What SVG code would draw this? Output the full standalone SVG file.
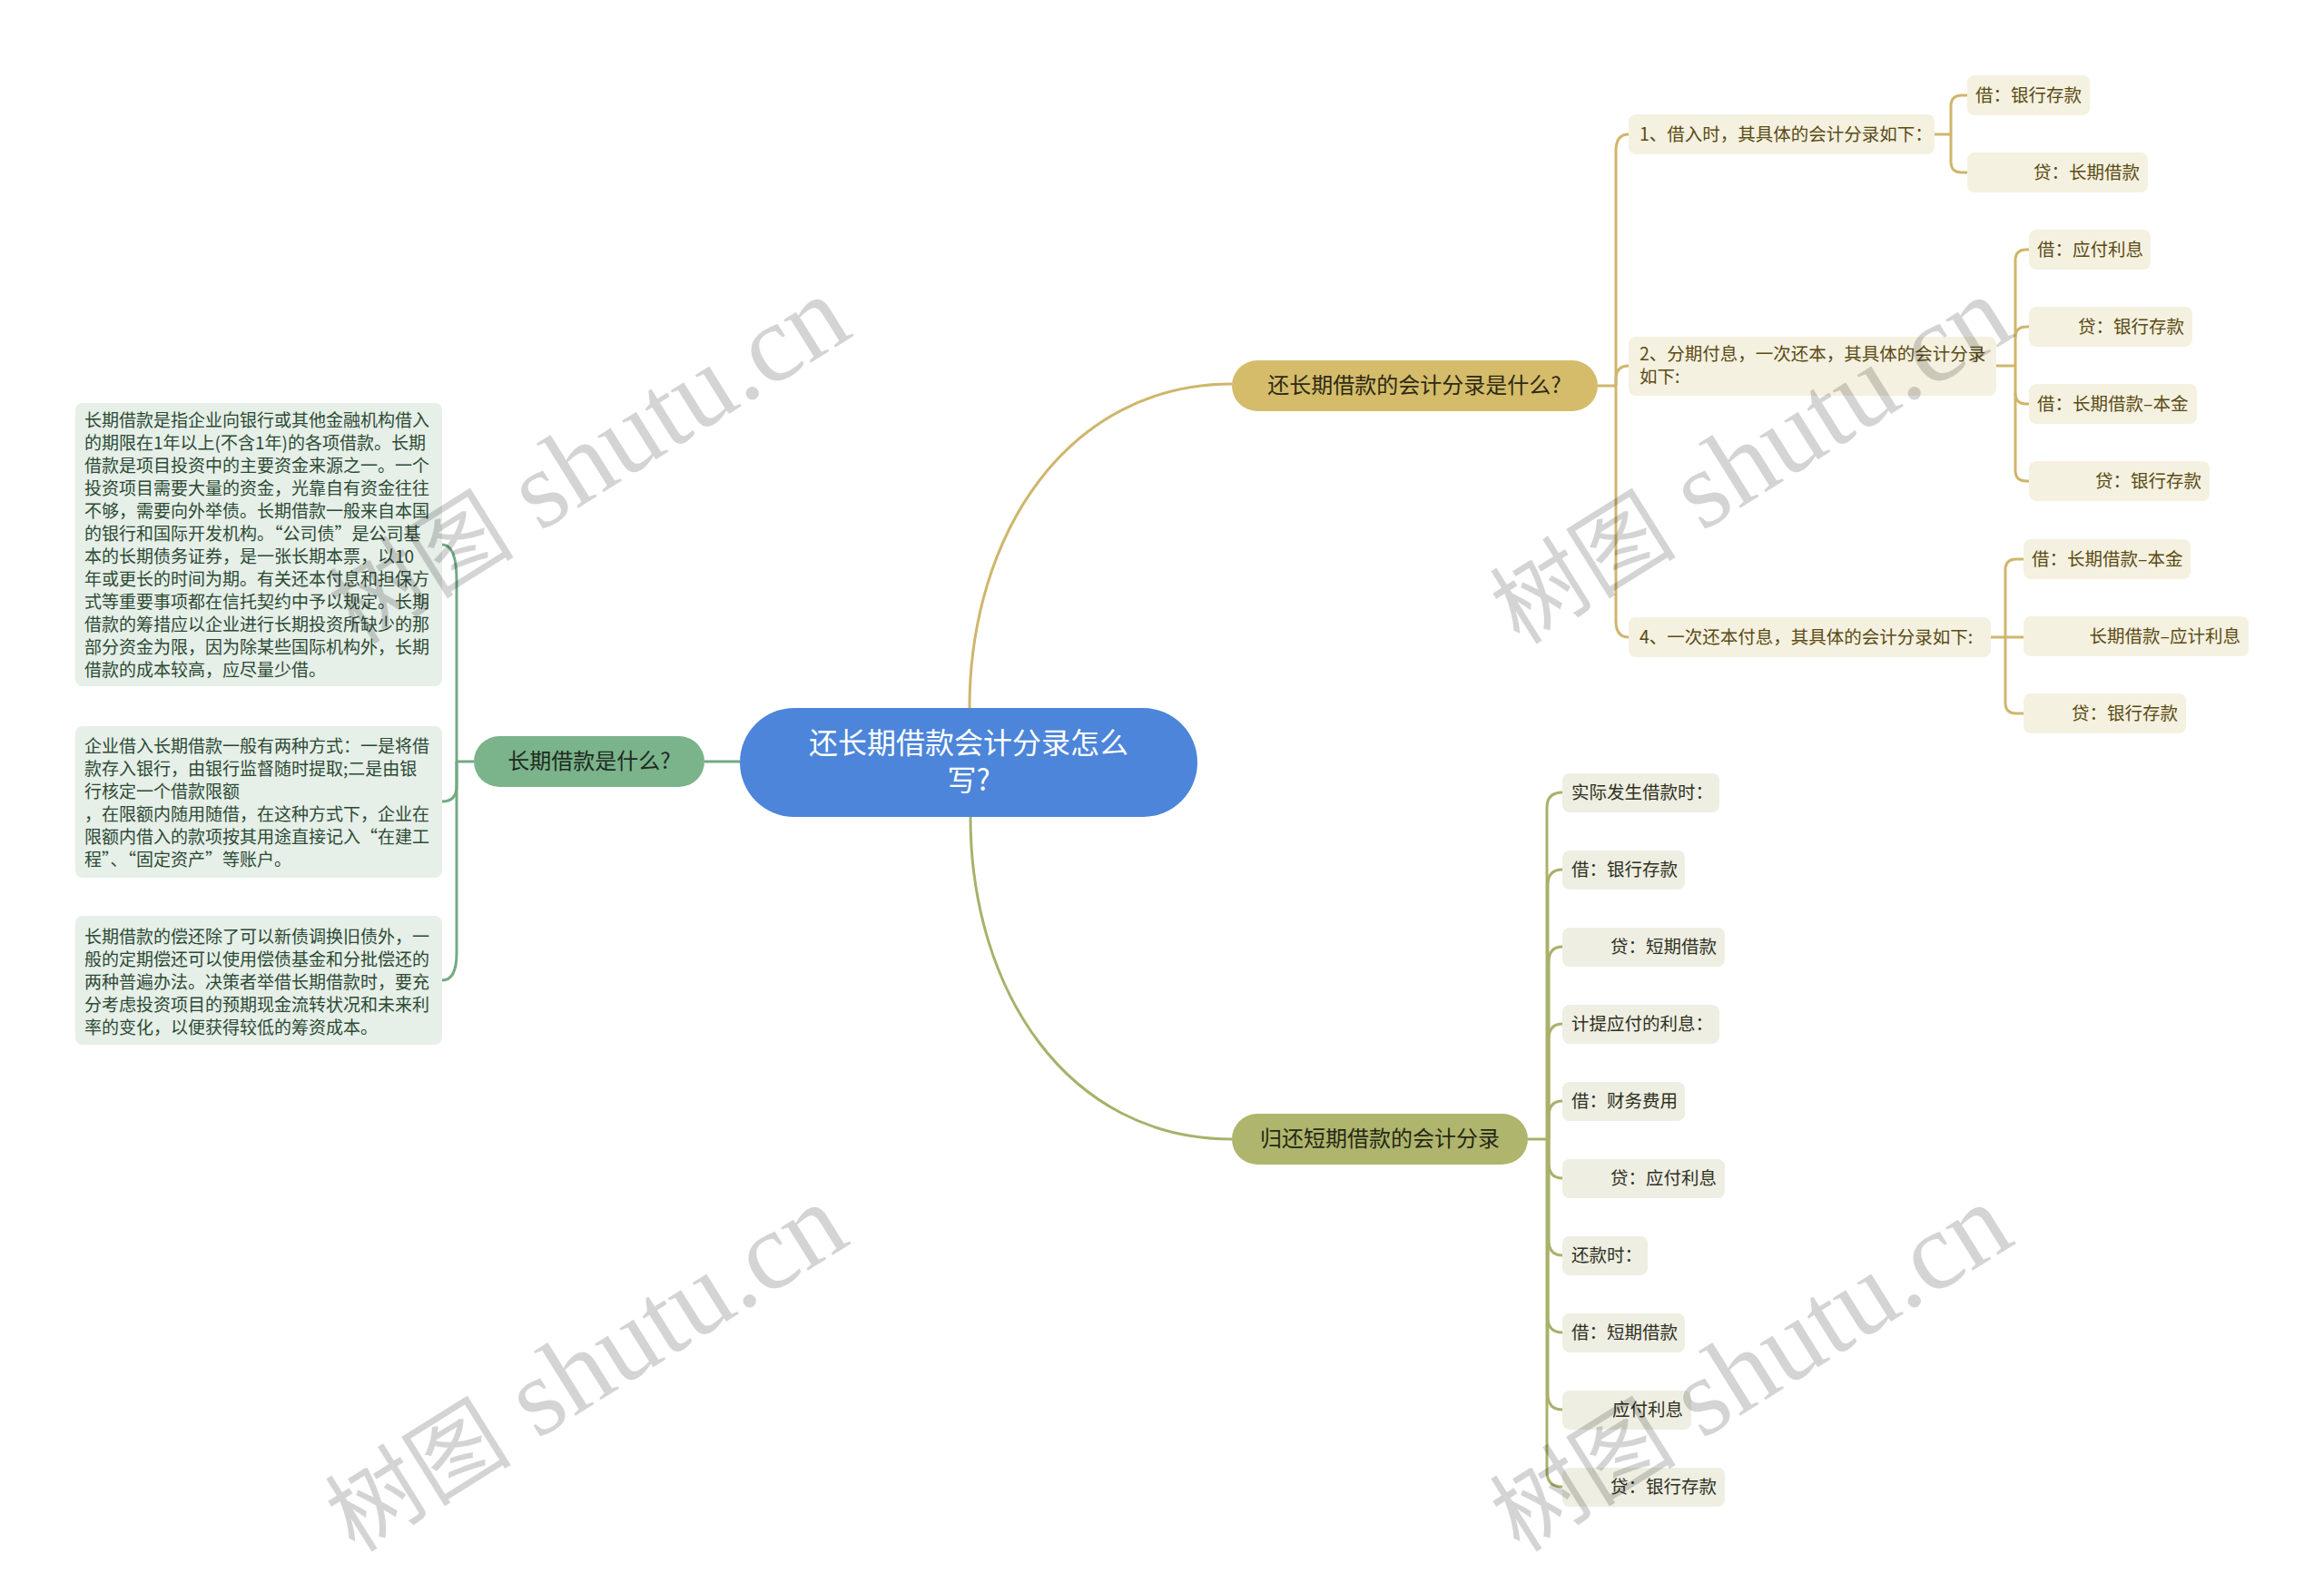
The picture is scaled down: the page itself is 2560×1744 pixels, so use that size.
<svg xmlns="http://www.w3.org/2000/svg" width="2560" height="1744" viewBox="0 0 2560 1744">
<style>
text{font-family:"Noto Sans CJK SC","Noto Sans",sans-serif;}
.gl{fill:#e6efe8;}
.gt{font-size:19px;fill:#2c4a34;}
.gk{fill:#f5f1e0;}
.kt{font-size:19.5px;fill:#5a4a14;}
.ok{fill:#eeeee3;}
.ot{font-size:19.5px;fill:#2e3020;}
.cg{fill:none;stroke:#73aa83;stroke-width:3;}
.cy{fill:none;stroke:#cfb66b;stroke-width:3;}
.co{fill:none;stroke:#a9b16a;stroke-width:3;}
.wm{font-family:"Liberation Serif","Noto Sans CJK SC",serif;font-size:122px;fill:#000;fill-opacity:0.17;}
.wc{font-family:"Noto Sans CJK SC",sans-serif;font-size:103px;}
</style>
<rect width="2560" height="1744" fill="#ffffff"/>

<g id="connectors">
  <path class="cg" d="M776,839 H815"/>
  <path class="cy" d="M1068,780 C1068,590 1175,423 1357,423"/>
  <path class="co" d="M1069,900 C1069,1090 1175,1255 1357,1255"/>
  <path class="cg" d="M522,839 H503"/>
  <path class="cg" d="M503,839 V640 Q503,600 487,600"/>
  <path class="cg" d="M503,839 V866 Q503,883 487,883"/>
  <path class="cg" d="M503,839 V1050 Q503,1080 487,1080"/>
  <path class="cy" d="M1760,425 H1780"/>
  <path class="cy" d="M1780,425 V166 Q1780,148 1794,148"/>
  <path class="cy" d="M1780,425 V418 Q1780,403 1794,403"/>
  <path class="cy" d="M1780,425 V684 Q1780,702 1794,702"/>
  <path class="cy" d="M2131,148 H2149"/>
  <path class="cy" d="M2167,105 H2161 Q2149,105 2149,117 V178 Q2149,190 2161,190 H2167"/>
  <path class="cy" d="M2199,403 H2220"/>
  <path class="cy" d="M2235,275 H2232 Q2220,275 2220,287 V518 Q2220,530 2232,530 H2235"/>
  <path class="cy" d="M2220,372 Q2220,360 2232,360 H2235"/>
  <path class="cy" d="M2220,433 Q2220,445 2232,445 H2235"/>
  <path class="cy" d="M2193,702 H2229"/>
  <path class="cy" d="M2229,616 H2221 Q2209,616 2209,628 V774 Q2209,786 2221,786 H2229"/>
  <path class="co" d="M1683,1255 H1704"/>
  <path class="co" d="M1704,1255 V890 Q1704,873 1721,873"/>
  <path class="co" d="M1705,1255 V975 Q1705,958 1721,958"/>
  <path class="co" d="M1706,1255 V1060 Q1706,1043 1721,1043"/>
  <path class="co" d="M1706,1255 V1145 Q1706,1128 1721,1128"/>
  <path class="co" d="M1706,1255 V1230 Q1706,1213 1721,1213"/>
  <path class="co" d="M1706,1255 V1281 Q1706,1298 1721,1298"/>
  <path class="co" d="M1706,1255 V1366 Q1706,1383 1721,1383"/>
  <path class="co" d="M1705,1255 V1451 Q1705,1468 1721,1468"/>
  <path class="co" d="M1705,1255 V1536 Q1705,1553 1721,1553"/>
  <path class="co" d="M1704,1255 V1621 Q1704,1638 1721,1638"/>
</g>

<g id="root">
  <rect x="815" y="780" width="504" height="120" rx="60" fill="#4c85d9"/>
  <text x="1067" y="830" font-size="32" fill="#ffffff" text-anchor="middle">还长期借款会计分录怎么</text>
  <text x="1067" y="871" font-size="32" fill="#ffffff" text-anchor="middle">写?</text>
</g>

<g id="n-what">
  <rect x="522" y="811" width="254" height="56" rx="28" fill="#7bb38b"/>
  <text x="649" y="847" font-size="24" fill="#1e2a20" text-anchor="middle">长期借款是什么?</text>
</g>

<g id="n-def">
  <rect class="gl" x="83" y="444" width="404" height="312" rx="8"/>
  <text class="gt">
    <tspan x="93" y="470">长期借款是指企业向银行或其他金融机构借入</tspan>
    <tspan x="93" y="495">的期限在1年以上(不含1年)的各项借款。长期</tspan>
    <tspan x="93" y="520">借款是项目投资中的主要资金来源之一。一个</tspan>
    <tspan x="93" y="545">投资项目需要大量的资金，光靠自有资金往往</tspan>
    <tspan x="93" y="570">不够，需要向外举债。长期借款一般来自本国</tspan>
    <tspan x="93" y="595">的银行和国际开发机构。“公司债”是公司基</tspan>
    <tspan x="93" y="620">本的长期债务证券，是一张长期本票，以10</tspan>
    <tspan x="93" y="645">年或更长的时间为期。有关还本付息和担保方</tspan>
    <tspan x="93" y="670">式等重要事项都在信托契约中予以规定。长期</tspan>
    <tspan x="93" y="695">借款的筹措应以企业进行长期投资所缺少的那</tspan>
    <tspan x="93" y="720">部分资金为限，因为除某些国际机构外，长期</tspan>
    <tspan x="93" y="745">借款的成本较高，应尽量少借。</tspan>
  </text>
</g>

<g id="n-ways">
  <rect class="gl" x="83" y="800" width="404" height="167" rx="8"/>
  <text class="gt">
    <tspan x="93" y="829">企业借入长期借款一般有两种方式：一是将借</tspan>
    <tspan x="93" y="854">款存入银行，由银行监督随时提取;二是由银</tspan>
    <tspan x="93" y="879">行核定一个借款限额</tspan>
    <tspan x="93" y="904">，在限额内随用随借，在这种方式下，企业在</tspan>
    <tspan x="93" y="929">限额内借入的款项按其用途直接记入“在建工</tspan>
    <tspan x="93" y="954">程”、“固定资产”等账户。</tspan>
  </text>
</g>

<g id="n-repay">
  <rect class="gl" x="83" y="1009" width="404" height="142" rx="8"/>
  <text class="gt">
    <tspan x="93" y="1039">长期借款的偿还除了可以新债调换旧债外，一</tspan>
    <tspan x="93" y="1064">般的定期偿还可以使用偿债基金和分批偿还的</tspan>
    <tspan x="93" y="1089">两种普遍办法。决策者举借长期借款时，要充</tspan>
    <tspan x="93" y="1114">分考虑投资项目的预期现金流转状况和未来利</tspan>
    <tspan x="93" y="1139">率的变化，以便获得较低的筹资成本。</tspan>
  </text>
</g>

<g id="n-long">
  <rect x="1357" y="397" width="403" height="56" rx="28" fill="#d4bc6b"/>
  <text x="1558" y="433" font-size="24" fill="#2e2a12" text-anchor="middle">还长期借款的会计分录是什么?</text>
</g>

<g id="n-c1">
  <rect class="gk" x="1794" y="126" width="337" height="44" rx="8"/>
  <text class="kt" x="1806" y="155">1、借入时，其具体的会计分录如下：</text>
</g>
<g id="n-c1a">
  <rect class="gk" x="2167" y="83" width="135" height="44" rx="8"/>
  <text class="kt" x="2176" y="112">借：银行存款</text>
</g>
<g id="n-c1b">
  <rect class="gk" x="2167" y="168" width="199" height="44" rx="8"/>
  <text class="kt" x="2357" y="197" text-anchor="end">贷：长期借款</text>
</g>

<g id="n-c2">
  <rect class="gk" x="1794" y="371" width="405" height="65" rx="8"/>
  <text class="kt">
    <tspan x="1806" y="397">2、分期付息，一次还本，其具体的会计分录</tspan>
    <tspan x="1806" y="422">如下:</tspan>
  </text>
</g>
<g id="n-c2a">
  <rect class="gk" x="2235" y="253" width="134" height="44" rx="8"/>
  <text class="kt" x="2244" y="282">借：应付利息</text>
</g>
<g id="n-c2b">
  <rect class="gk" x="2235" y="338" width="180" height="44" rx="8"/>
  <text class="kt" x="2406" y="367" text-anchor="end">贷：银行存款</text>
</g>
<g id="n-c2c">
  <rect class="gk" x="2235" y="423" width="185" height="44" rx="8"/>
  <text class="kt" x="2244" y="452">借：长期借款–本金</text>
</g>
<g id="n-c2d">
  <rect class="gk" x="2235" y="508" width="199" height="44" rx="8"/>
  <text class="kt" x="2425" y="537" text-anchor="end">贷：银行存款</text>
</g>

<g id="n-c4">
  <rect class="gk" x="1794" y="680" width="399" height="44" rx="8"/>
  <text class="kt" x="1806" y="709">4、一次还本付息，其具体的会计分录如下:</text>
</g>
<g id="n-c4a">
  <rect class="gk" x="2229" y="594" width="184" height="44" rx="8"/>
  <text class="kt" x="2238" y="623">借：长期借款–本金</text>
</g>
<g id="n-c4b">
  <rect class="gk" x="2229" y="679" width="248" height="44" rx="8"/>
  <text class="kt" x="2468" y="708" text-anchor="end">长期借款–应计利息</text>
</g>
<g id="n-c4c">
  <rect class="gk" x="2229" y="764" width="179" height="44" rx="8"/>
  <text class="kt" x="2399" y="793" text-anchor="end">贷：银行存款</text>
</g>

<g id="n-short">
  <rect x="1357" y="1227" width="326" height="56" rx="28" fill="#afb56d"/>
  <text x="1520" y="1263" font-size="24" fill="#262814" text-anchor="middle">归还短期借款的会计分录</text>
</g>

<g id="n-s1"><rect class="ok" x="1721" y="852" width="173" height="43" rx="8"/><text class="ot" x="1731" y="880">实际发生借款时：</text></g>
<g id="n-s2"><rect class="ok" x="1721" y="937" width="135" height="43" rx="8"/><text class="ot" x="1731" y="965">借：银行存款</text></g>
<g id="n-s3"><rect class="ok" x="1721" y="1022" width="179" height="43" rx="8"/><text class="ot" x="1891" y="1050" text-anchor="end">贷：短期借款</text></g>
<g id="n-s4"><rect class="ok" x="1721" y="1107" width="173" height="43" rx="8"/><text class="ot" x="1731" y="1135">计提应付的利息：</text></g>
<g id="n-s5"><rect class="ok" x="1721" y="1192" width="135" height="43" rx="8"/><text class="ot" x="1731" y="1220">借：财务费用</text></g>
<g id="n-s6"><rect class="ok" x="1721" y="1277" width="179" height="43" rx="8"/><text class="ot" x="1891" y="1305" text-anchor="end">贷：应付利息</text></g>
<g id="n-s7"><rect class="ok" x="1721" y="1362" width="94" height="43" rx="8"/><text class="ot" x="1731" y="1390">还款时：</text></g>
<g id="n-s8"><rect class="ok" x="1721" y="1447" width="135" height="43" rx="8"/><text class="ot" x="1731" y="1475">借：短期借款</text></g>
<g id="n-s9"><rect class="ok" x="1721" y="1532" width="142" height="43" rx="8"/><text class="ot" x="1854" y="1560" text-anchor="end">应付利息</text></g>
<g id="n-s10"><rect class="ok" x="1721" y="1617" width="179" height="43" rx="8"/><text class="ot" x="1891" y="1645" text-anchor="end">贷：银行存款</text></g>

<g id="watermarks">
  <text class="wm" transform="translate(648,508) rotate(-32)" x="0" y="38" text-anchor="middle"><tspan class="wc">树图</tspan> shutu.cn</text>
  <text class="wm" transform="translate(1928,508) rotate(-32)" x="0" y="38" text-anchor="middle"><tspan class="wc">树图</tspan> shutu.cn</text>
  <text class="wm" transform="translate(645,1508) rotate(-32)" x="0" y="38" text-anchor="middle"><tspan class="wc">树图</tspan> shutu.cn</text>
  <text class="wm" transform="translate(1928,1508) rotate(-32)" x="0" y="38" text-anchor="middle"><tspan class="wc">树图</tspan> shutu.cn</text>
</g>
</svg>
